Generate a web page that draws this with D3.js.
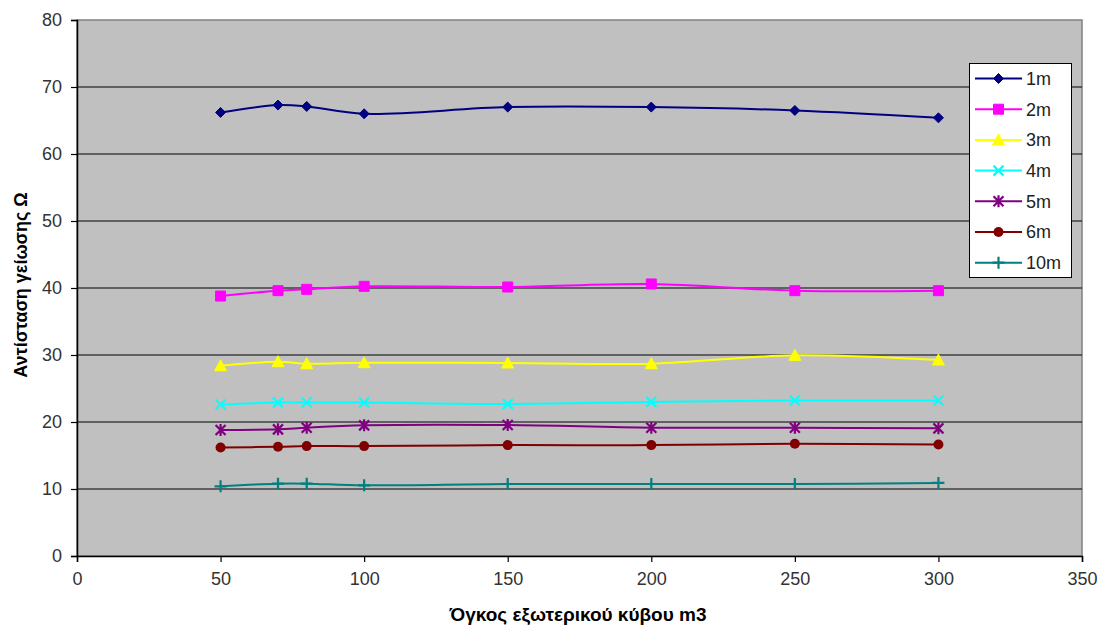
<!DOCTYPE html>
<html>
<head>
<meta charset="utf-8">
<script src="https://cdn.jsdelivr.net/npm/d3@7"></script>
<style>
body { margin: 0; background: #fff; }
svg { display: block; font-family: Arial, "Liberation Sans", sans-serif; }
.tick text { fill: #333; font-size: 18px; }
.title { font-weight: bold; font-size: 18px; fill: #000; }
</style>
</head>
<body>
<svg width="1102" height="630"></svg>
<script>
// volumes of the outer cube (m3)
var volumes = [50, 70, 80, 100, 150, 200, 250, 300];
var seriesNames = ['1m', '2m', '3m', '4m', '5m', '6m', '10m'];
var r1m  = [66.2, 67.3, 67.1, 66.0, 67.0, 67.0, 66.5, 65.4];
var r2m  = [38.8, 39.6, 39.8, 40.25, 40.15, 40.6, 39.6, 39.6];
var r3m  = [28.4, 29.0, 28.7, 28.85, 28.8, 28.7, 29.95, 29.25];
var r4m  = [22.6, 22.9, 22.9, 22.9, 22.7, 23.0, 23.2, 23.2];
var r5m  = [18.8, 18.9, 19.15, 19.5, 19.55, 19.15, 19.15, 19.05];
var r6m  = [16.2, 16.3, 16.4, 16.4, 16.55, 16.55, 16.75, 16.65];
var r10m = [10.4, 10.8, 10.8, 10.55, 10.75, 10.75, 10.75, 10.9];
var xTicks = [0, 50, 100, 150, 200, 250, 300, 350];
var yTicks = [0, 10, 20, 30, 40, 50, 60, 70, 80];

var allValues = [r1m, r2m, r3m, r4m, r5m, r6m, r10m];
var colors = ['#000080', '#ff00ff', '#ffff00', '#00ffff', '#800080', '#800000', '#008080'];
var markers = ['diamond', 'square', 'triangle', 'x', 'star', 'circle', 'plus'];

var plotL = 77, plotR = 1082, plotT = 20, plotB = 556;
var x = d3.scaleLinear().domain([0, 350]).range([plotL, plotR]);
var y = d3.scaleLinear().domain([0, 80]).range([plotB, plotT]);

var svg = d3.select("svg");

// plot background
svg.append("rect")
    .attr("x", plotL).attr("y", plotT)
    .attr("width", plotR - plotL).attr("height", plotB - plotT)
    .attr("fill", "#c0c0c0")
    .attr("stroke", "#808080")
    .attr("stroke-width", 1.5);

// gridlines
svg.append("g").selectAll("line")
    .data(yTicks.filter(d => d > 0 && d < 80))
    .enter().append("line")
    .attr("x1", plotL).attr("x2", plotR)
    .attr("y1", d => y(d)).attr("y2", d => y(d))
    .attr("stroke", "#000")
    .attr("stroke-width", 1.2);

var yAxis = svg.append("g")
    .attr("transform", "translate(" + plotL + ",0)")
    .call(d3.axisLeft(y).tickValues(yTicks).tickSize(6).tickPadding(9));
var xAxis = svg.append("g")
    .attr("transform", "translate(0," + plotB + ")")
    .call(d3.axisBottom(x).tickValues(xTicks).tickSize(6).tickPadding(10));
[yAxis, xAxis].forEach(function(a) {
    a.select(".domain").attr("stroke", "#000").attr("stroke-width", 1.5);
    a.selectAll(".tick line").attr("stroke", "#000").attr("stroke-width", 1.2);
});

function markerPath(type, s) {
    switch (type) {
        case 'diamond': return "M0," + (-s) + "L" + s + ",0L0," + s + "L" + (-s) + ",0Z";
        case 'square': return "M" + (-s) + "," + (-s) + "h" + (2 * s) + "v" + (2 * s) + "h" + (-2 * s) + "Z";
        case 'triangle': return "M0," + (-s - 1) + "L" + (s + 1) + "," + (s) + "L" + (-s - 1) + "," + (s) + "Z";
        case 'x': return "M" + (-s) + "," + (-s) + "L" + s + "," + s + "M" + s + "," + (-s) + "L" + (-s) + "," + s;
        case 'star': return "M" + (-s) + "," + (-s) + "L" + s + "," + s + "M" + s + "," + (-s) + "L" + (-s) + "," + s + "M0," + (-s - 1) + "V" + (s + 1);
        case 'plus': return "M" + (-s - 1) + ",0H" + (s + 1) + "M0," + (-s - 1) + "V" + (s + 1);
    }
}

function drawMarker(g, type, color, cx, cy) {
    if (type === 'circle') {
        g.append("circle").attr("cx", cx).attr("cy", cy).attr("r", 5).attr("fill", color);
    } else {
        var filled = (type === 'diamond' || type === 'square' || type === 'triangle');
        g.append("path")
            .attr("d", markerPath(type, 5))
            .attr("transform", "translate(" + cx + "," + cy + ")")
            .attr("fill", filled ? color : "none")
            .attr("stroke", color)
            .attr("stroke-width", filled ? 1 : 2.2);
    }
}

var line = d3.line()
    .x(d => x(d[0]))
    .y(d => y(d[1]))
    .curve(d3.curveCatmullRom.alpha(0.5));

seriesNames.forEach(function(name, i) {
    var pts = volumes.map((v, j) => [v, allValues[i][j]]);
    var g = svg.append("g");
    g.append("path")
        .datum(pts)
        .attr("d", line)
        .attr("fill", "none")
        .attr("stroke", colors[i])
        .attr("stroke-width", 2);
    pts.forEach(function(p) {
        drawMarker(g, markers[i], colors[i], x(p[0]), y(p[1]));
    });
});

// legend
var legend = svg.append("g");
legend.append("rect")
    .attr("x", 969.5).attr("y", 63.5)
    .attr("width", 102).attr("height", 214)
    .attr("fill", "#fff")
    .attr("stroke", "#000")
    .attr("stroke-width", 1);
seriesNames.forEach(function(name, i) {
    var ly = 78.5 + i * 30.7;
    legend.append("line")
        .attr("x1", 975).attr("x2", 1022)
        .attr("y1", ly).attr("y2", ly)
        .attr("stroke", colors[i]).attr("stroke-width", 2);
    drawMarker(legend, markers[i], colors[i], 998.5, ly);
    legend.append("text")
        .attr("x", 1026).attr("y", ly)
        .attr("dy", "0.36em")
        .attr("font-size", 18)
        .attr("fill", "#222")
        .text(name);
});

// axis titles
svg.append("text")
    .attr("class", "title")
    .attr("transform", "translate(27,285) rotate(-90)")
    .attr("text-anchor", "middle")
    .text("Αντίσταση γείωσης Ω");
svg.append("text")
    .attr("class", "title")
    .attr("x", 578).attr("y", 621)
    .attr("text-anchor", "middle")
    .style("font-size", "19px")
    .text("Όγκος εξωτερικού κύβου m3");
</script>
</body>
</html>
